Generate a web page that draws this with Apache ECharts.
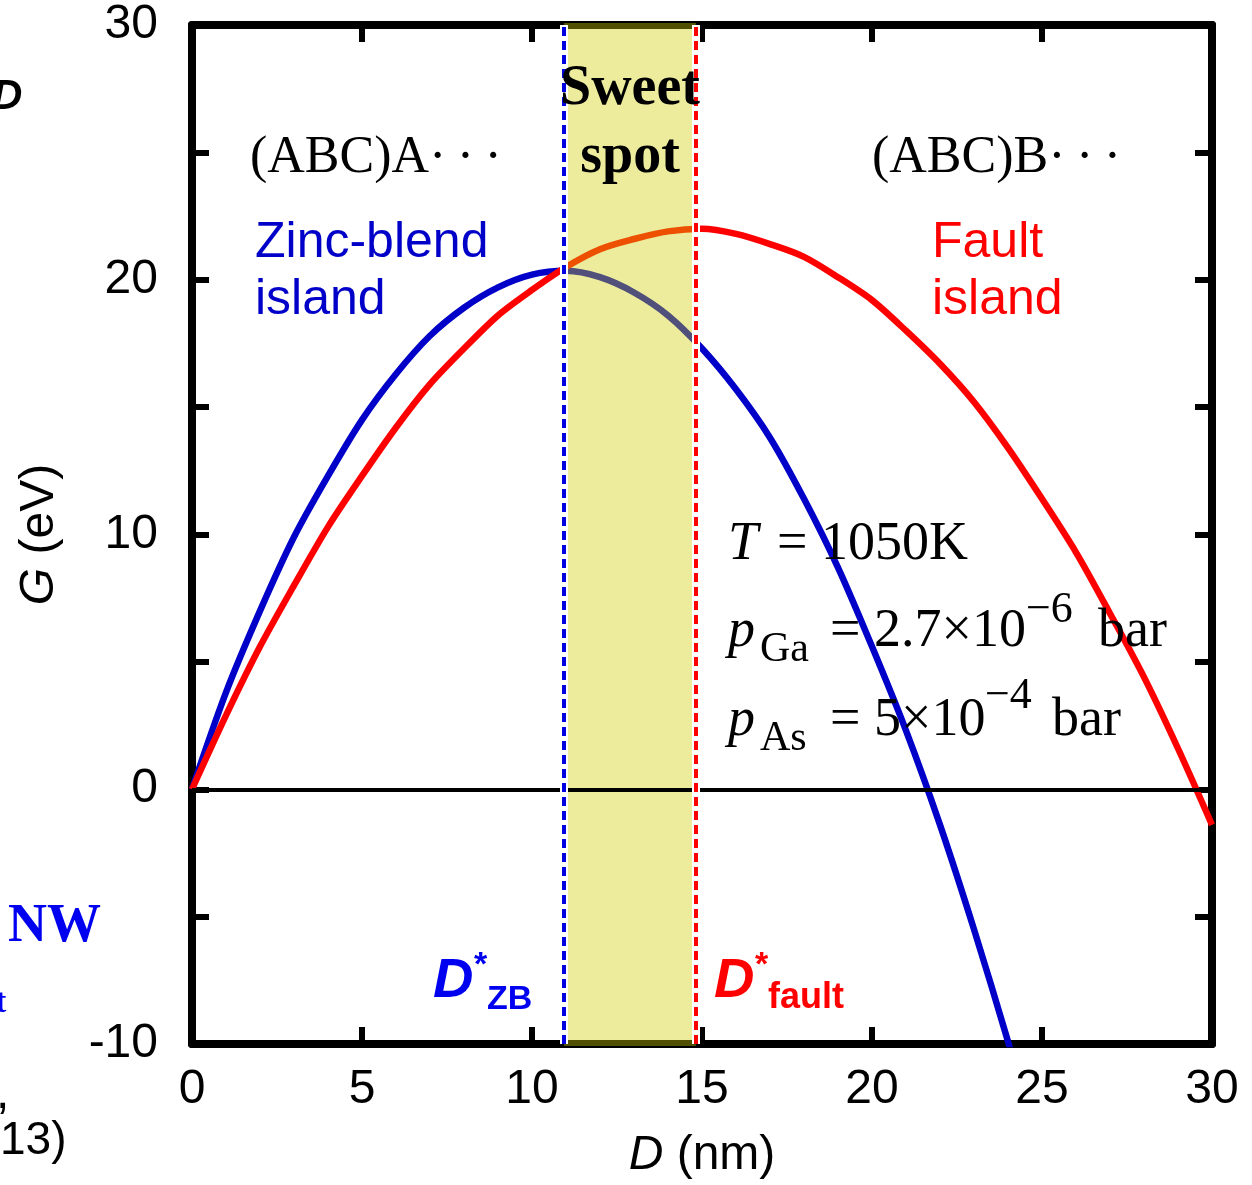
<!DOCTYPE html>
<html>
<head>
<meta charset="UTF-8">
<title>island energy</title>
<style>
  * { margin: 0; padding: 0; }
  html, body { width: 100%; height: 100%; background: #fff; }
  #chart { width: 1252px; height: 1185px; }
</style>
<script src="https://cdn.jsdelivr.net/npm/echarts@6/dist/echarts.min.js"></script>
</head>
<body>
<div id="chart"></div>
<script>
  // D (nm) sample points
  const dZincBlend = [0,1,2,3,4,5,6,7,8,9,10,11,12,13,14,15,16,17,18,19,20,21,22,23,24,25]
  const gZincBlend = [0,3.8,7.0,9.9,12.3,14.5,16.3,17.8,18.9,19.7,20.2,20.35,20.1,19.5,18.6,17.3,15.7,13.8,11.4,8.7,5.6,2.3,-1.4,-5.5,-9.9,-14.6]
  const dFault = [0,1,2,3,4,5,6,7,8,9,10,11,12,13,14,15,16,17,18,19,20,21,22,23,24,25,26,27,28,29,30]
  const gFault = [0,2.9,5.6,8.0,10.3,12.3,14.2,15.9,17.3,18.6,19.6,20.5,21.2,21.6,21.9,22.0,21.8,21.4,20.9,20.1,19.2,18.0,16.7,15.2,13.4,11.4,9.3,6.9,4.4,1.6,-1.4]
  const dStarZB = 10.94
  const dStarFault = 14.82
  const yLabelValues = [-10, 0, 10, 20, 30]

  const SANS = '"Liberation Sans", Arial, sans-serif'
  const SERIF = '"Liberation Serif", "Times New Roman", serif'
  const BLUE = '#0000c8'
  const RED = '#ff0000'

  function pairs(xs, ys) {
    return xs.map((x, i) => [x, ys[i]])
  }

  function txt(text, x, y, font, fill, align) {
    return {
      type: 'text', x: x, y: y, z: 100,
      style: {
        text: text, font: font, fill: fill || '#000',
        textAlign: align || 'left', align: align || 'left',
        textVerticalAlign: 'middle', verticalAlign: 'middle'
      }
    }
  }

  const frameAxis = {
    axisLine: { onZero: false, lineStyle: { color: '#000', width: 8 } },
    axisTick: { inside: true, length: 17, lineStyle: { color: '#000', width: 6 } },
    splitLine: { show: false }
  }

  const chart = echarts.init(document.getElementById('chart'))

  chart.setOption({
    animation: false,
    backgroundColor: '#fff',
    grid: { left: 192, right: 40, top: 25, bottom: 136 },
    xAxis: [
      Object.assign({
        type: 'value', min: 0, max: 30, interval: 5, position: 'bottom',
        axisLabel: { fontSize: 48, fontFamily: SANS, color: '#000', margin: 22 },
        name: '{i|D} (nm)', nameLocation: 'middle', nameGap: 88,
        nameTextStyle: {
          fontSize: 48, fontFamily: SANS, color: '#000',
          rich: { i: { fontSize: 48, fontFamily: SANS, fontStyle: 'italic', color: '#000' } }
        }
      }, frameAxis),
      Object.assign({
        type: 'value', min: 0, max: 30, interval: 5, position: 'top',
        axisLabel: { show: false }
      }, frameAxis)
    ],
    yAxis: [
      Object.assign({
        type: 'value', min: -10, max: 30, interval: 5, position: 'left',
        axisLabel: {
          fontSize: 48, fontFamily: SANS, color: '#000', margin: 34,
          formatter: v => yLabelValues.indexOf(v) >= 0 ? String(v) : ''
        },
        name: '{i|G} (eV)', nameLocation: 'middle', nameGap: 128, nameRotate: 90,
        nameTextStyle: {
          fontSize: 48, fontFamily: SANS, color: '#000',
          rich: { i: { fontSize: 48, fontFamily: SANS, fontStyle: 'italic', color: '#000' } }
        }
      }, frameAxis),
      Object.assign({
        type: 'value', min: -10, max: 30, interval: 5, position: 'right',
        axisLabel: { show: false }
      }, frameAxis)
    ],
    series: [
      {
        name: 'zero', type: 'line', data: [], z: 1,
        markLine: {
          silent: true, symbol: ['none', 'none'], label: { show: false },
          lineStyle: { color: '#000', width: 4, type: 'solid' },
          data: [{ yAxis: 0 }]
        }
      },
      {
        name: 'Zinc-blend island', type: 'line', z: 2,
        data: pairs(dZincBlend, gZincBlend),
        showSymbol: false, smooth: 0.3, clip: true,
        lineStyle: { color: BLUE, width: 6.5 }
      },
      {
        name: 'Fault island', type: 'line', z: 2,
        data: pairs(dFault, gFault),
        showSymbol: false, smooth: 0.3, clip: true,
        lineStyle: { color: RED, width: 6.5 }
      },
      {
        // sweet spot band, drawn over the curves with transparency
        name: 'band', type: 'custom', z: 3, silent: true,
        data: [[dStarZB, dStarFault]],
        renderItem: function (params, api) {
          const p0 = api.coord([api.value(0), 30])
          const p1 = api.coord([api.value(1), -10])
          return {
            type: 'rect',
            shape: { x: p0[0], y: p0[1] - 2, width: p1[0] - p0[0], height: p1[1] - p0[1] + 4 },
            style: { fill: 'rgba(205,205,0,0.39)' }
          }
        }
      },
      {
        name: 'dash-bg', type: 'line', data: [], z: 4,
        markLine: {
          silent: true, symbol: ['none', 'none'], label: { show: false },
          lineStyle: { color: '#fff', width: 8, type: 'solid' },
          data: [{ xAxis: dStarZB }, { xAxis: dStarFault }]
        }
      },
      {
        name: 'dash', type: 'line', data: [], z: 5,
        markLine: {
          silent: true, symbol: ['none', 'none'], label: { show: false },
          data: [
            { xAxis: dStarZB, lineStyle: { color: '#0000e0', width: 4, type: [9, 5] } },
            { xAxis: dStarFault, lineStyle: { color: RED, width: 4, type: [9, 5] } }
          ]
        }
      }
    ],
    graphic: [
      // stacking sequences and labels
      txt('(ABC)A\u00b7\u2009\u00b7\u2009\u00b7', 250, 158, '52px ' + SERIF),
      txt('(ABC)B\u00b7\u2009\u00b7\u2009\u00b7', 872, 158, '52px ' + SERIF),
      txt('Sweet', 630, 90, 'bold 56px ' + SERIF, '#000', 'center'),
      txt('spot', 630, 158, 'bold 56px ' + SERIF, '#000', 'center'),
      txt('Zinc-blend', 255, 243, '50px ' + SANS, BLUE),
      txt('island', 255, 300, '50px ' + SANS, BLUE),
      txt('Fault', 932, 243, '50px ' + SANS, RED),
      txt('island', 932, 300, '50px ' + SANS, RED),

      // conditions
      txt('T', 728, 545, 'italic 54px ' + SERIF),
      txt('= 1050K', 777, 545, '54px ' + SERIF),
      txt('p', 728, 632, 'italic 54px ' + SERIF),
      txt('Ga', 760, 650, '42px ' + SERIF),
      txt('= 2.7\u00d710', 830, 632, '54px ' + SERIF),
      txt('\u22126', 1026, 610, '44px ' + SERIF),
      txt('bar', 1098, 632, '54px ' + SERIF),
      txt('p', 728, 721, 'italic 54px ' + SERIF),
      txt('As', 760, 739, '42px ' + SERIF),
      txt('= 5\u00d710', 830, 721, '54px ' + SERIF),
      txt('\u22124', 985, 696, '44px ' + SERIF),
      txt('bar', 1052, 721, '54px ' + SERIF),

      // critical sizes
      txt('D', 433, 982, 'italic bold 56px ' + SANS, '#0000f0'),
      txt('*', 474, 966, 'bold 34px ' + SANS, '#0000f0'),
      txt('ZB', 487, 1000, 'bold 34px ' + SANS, '#0000f0'),
      txt('D', 714, 982, 'italic bold 56px ' + SANS, RED),
      txt('*', 755, 966, 'bold 34px ' + SANS, RED),
      txt('fault', 768, 998, 'bold 36px ' + SANS, RED),

      // fragments of the neighbouring panel
      txt('D', -8, 97, 'italic bold 42px ' + SANS),
      txt('NW', 8, 927, 'bold 54px ' + SERIF, '#0000f0'),
      txt('t', -5, 1003, 'bold 34px ' + SERIF, '#0000f0'),
      txt(',', -4, 1095, '48px ' + SANS),
      txt('13)', 0, 1141, '46px ' + SANS)
    ]
  })
</script>
</body>
</html>
